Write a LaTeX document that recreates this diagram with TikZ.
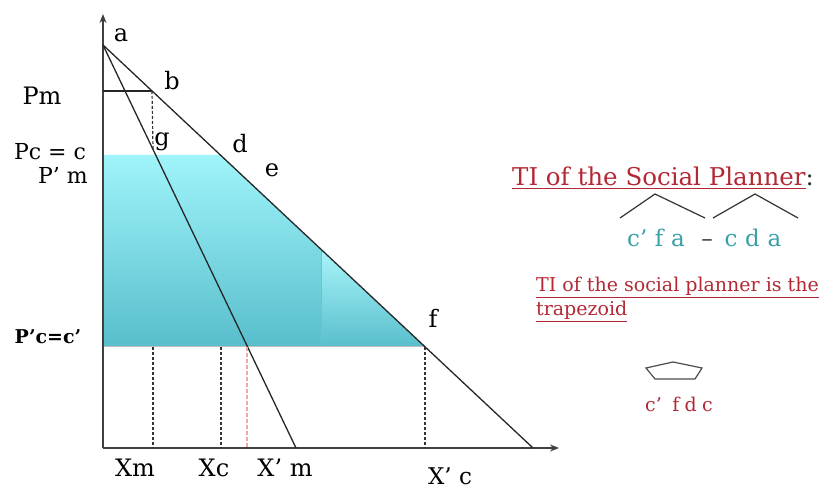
\documentclass[tikz,border=0pt]{standalone}
\usepackage{fontspec}
\setmainfont{DejaVu Serif}
\usetikzlibrary{arrows.meta}
\definecolor{tired}{RGB}{178,40,52}
\definecolor{titeal}{RGB}{58,160,168}
\definecolor{cyantop}{RGB}{160,244,250}
\definecolor{cyanbot}{RGB}{88,190,204}
\definecolor{salmon}{RGB}{240,170,155}
\tikzset{
  axis/.style={line width=1.3pt, draw=black!75, -{Stealth[length=9pt,width=7pt]}},
  curve/.style={line width=1.3pt, draw=black!85},
  guide/.style={line width=1.2pt, draw=black!80, dash pattern=on 3pt off 2pt},
  lbl/.style={inner sep=0pt, anchor=base, font=\fontsize{24}{28}\selectfont},
  vertex/.style={inner sep=0pt, minimum size=0pt},
}
\begin{document}
\begin{tikzpicture}[x=1pt,y=-1pt]
\useasboundingbox (0,0) rectangle (823,489);
% key points
\coordinate (O) at (103,448);
\coordinate (a) at (103,45);
\coordinate (b) at (152,91);
\coordinate (pm) at (103,91);
\coordinate (c) at (103,155);
\coordinate (d) at (221,155);
\coordinate (gt) at (153,149);
\coordinate (e) at (321,249.5);
\coordinate (eb) at (321,347);
\coordinate (cp) at (103,347);
\coordinate (f) at (425,347);
\coordinate (dend) at (533,448);
\coordinate (xm) at (153,448);
\coordinate (xmt) at (153,347);
\coordinate (xc) at (221,448);
\coordinate (xct) at (221,347);
\coordinate (xs) at (247,448);
\coordinate (xst) at (247,347);
\coordinate (xpc) at (425,448);
\coordinate (xpm) at (296,448);
\coordinate (yend) at (103,14);
\coordinate (xend) at (559,448);
% shaded areas
\shade[top color=cyantop, bottom color=cyanbot] (c) -- (d) -- (e) -- (eb) -- (cp) -- cycle;
\shade[top color=cyantop!90!white, bottom color=cyanbot] (e) -- (f) -- (eb) -- cycle;
\draw[line width=1pt, draw=cyanbot!70!black!60] (e) -- (eb);
\draw[line width=1pt, draw=black!25] (cp) -- (f);
% axes
\draw[axis] (O) -- (yend);
\draw[axis] (O) -- (xend);
% curves
\draw[curve] (a) -- (dend);
\draw[curve] (a) -- (xpm);
\draw[curve] (pm) -- (b);
% guides
\draw[guide] (b) -- (gt);
\draw[guide] (xmt) -- (xm);
\draw[guide] (xct) -- (xc);
\draw[guide] (f) -- (xpc);
\draw[line width=1.2pt, draw=salmon, dash pattern=on 4pt off 2pt] (xst) -- (xs);
% labels
\node[lbl] (la) at (121,42) {a};
\node[lbl] (lb) at (172,90) {b};
\node[lbl] (lpm) at (42,105) {Pm};
\node[lbl] (lg) at (162,146) {g};
\node[lbl] (ld) at (240,153) {d};
\node[lbl, font=\fontsize{22}{26}\selectfont] (lpc) at (50,160) {Pc = c};
\node[lbl, font=\fontsize{22}{26}\selectfont] (lpmp) at (63,184) {P' m};
\node[lbl] (le) at (272,177) {e};
\node[lbl, font=\fontsize{19}{24}\selectfont\bfseries] (lpcp) at (48,344) {P'c=c'};
\node[lbl] (lf) at (433,328) {f};
\node[lbl] (lxm) at (135,476) {Xm};
\node[lbl] (lxc) at (214,476) {Xc};
\node[lbl] (lxpm) at (285,476) {X' m};
\node[lbl, font=\fontsize{23}{26}\selectfont] (lxpc) at (450,484) {X' c};
% right side text
\node[inner sep=0pt, anchor=base west, font=\fontsize{24.5}{28}\selectfont] (title) at (512,186)
  {\textcolor{tired}{\underline{TI of the Social Planner}}\textcolor{black!80}{:}};
\node[vertex] (t1) at (620,218) {};
\node[vertex] (t1a) at (655,194) {};
\node[vertex] (t1b) at (705,218) {};
\node[vertex] (t2) at (713,218) {};
\node[vertex] (t2a) at (755,194) {};
\node[vertex] (t2b) at (798,218) {};
\draw[line width=1.2pt, black!80] (t1.center) -- (t1a.center) -- (t1b.center);
\draw[line width=1.2pt, black!80] (t2.center) -- (t2a.center) -- (t2b.center);
\node[inner sep=0pt, anchor=base, font=\fontsize{23}{26}\selectfont, text=titeal] (fa) at (656,247) {c'\,\,f\,\,a};
\node[inner sep=0pt, anchor=base, font=\fontsize{23}{26}\selectfont, text=black!80] (minus) at (707,247) {\textendash};
\node[inner sep=0pt, anchor=base, font=\fontsize{23}{26}\selectfont, text=titeal] (cda) at (753,247) {c\,\,d\,\,a};
\node[inner sep=0pt, anchor=base west, align=left, font=\fontsize{19}{24}\selectfont] (note) at (536,316)
  {\textcolor{tired}{\underline{TI of the social planner is the}}\\\textcolor{tired}{\underline{trapezoid}}};
\node[vertex] (p1) at (646,368) {};
\node[vertex] (p2) at (673,362) {};
\node[vertex] (p3) at (702,368) {};
\node[vertex] (p4) at (695,379) {};
\node[vertex] (p5) at (655,379) {};
\draw[line width=1.2pt, black!70] (p1.center) -- (p2.center) -- (p3.center) -- (p4.center) -- (p5.center) -- cycle;
\node[inner sep=0pt, anchor=base, font=\fontsize{19}{22}\selectfont, text=tired] (trap) at (679,411) {c'\;\;f\;d\;c};
\end{tikzpicture}
\end{document}
